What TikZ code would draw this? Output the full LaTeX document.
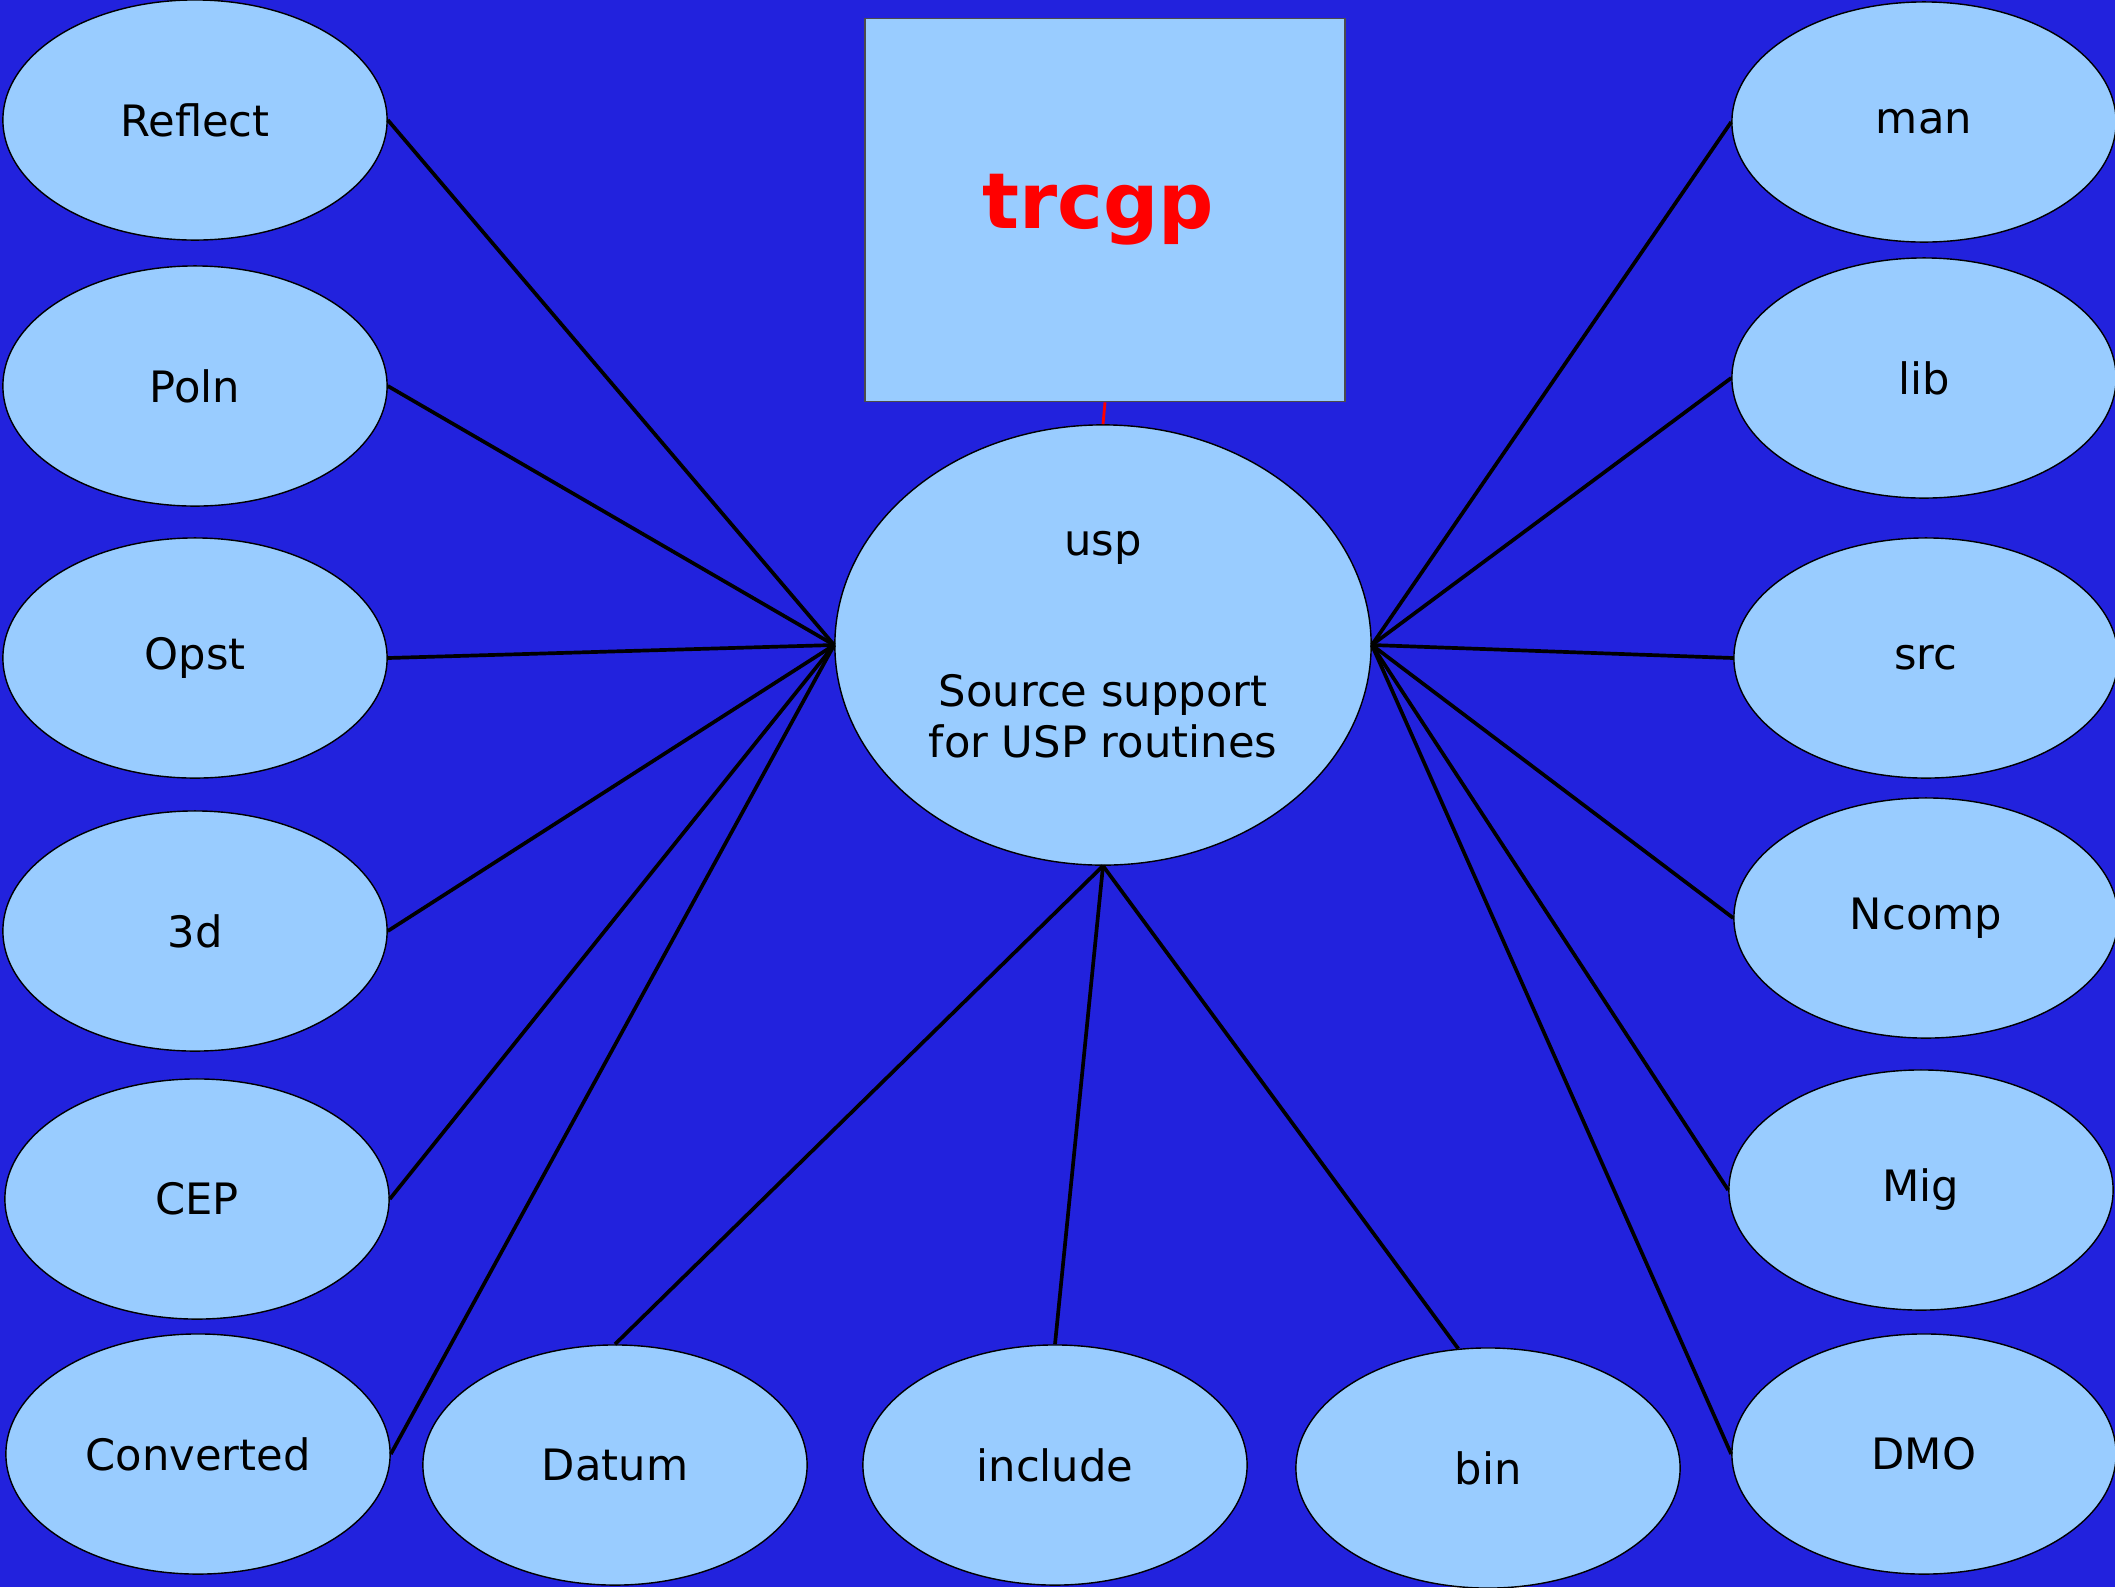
\documentclass[tikz,border=0pt]{standalone}
\usepackage{fontspec}
\setmainfont{DejaVu Sans}
\usetikzlibrary{shapes.geometric}
\definecolor{bgblue}{RGB}{34,34,221}
\definecolor{leafblue}{RGB}{153,204,255}

\begin{document}
\begin{tikzpicture}[x=0.01cm,y=-0.01cm]
\tikzstyle{dir}=[ellipse,draw=black,line width=0.4pt,fill=leafblue,minimum width=3.84cm,minimum height=2.4cm,inner sep=0pt,font=\fontsize{12.3}{15}\selectfont]
\tikzstyle{hub}=[dir,minimum width=5.36cm,minimum height=4.4cm,align=center,font=\fontsize{12.3}{14.5}\selectfont]
\tikzstyle{titlebox}=[rectangle,draw=black!70,line width=0.4pt,fill=leafblue,minimum width=4.8cm,minimum height=3.83cm,text=red,font=\fontsize{22}{28}\selectfont\bfseries]
\tikzstyle{link}=[draw=black,line width=1.05pt]

% Background
\useasboundingbox (0,0) rectangle (2115,1587);
\fill[bgblue] (0,0) rectangle (2115,1587);

% Title box and the usp node
\node[titlebox] (title) at (1105,210) {\hspace*{-0.14cm}trcgp};
\node[hub] (usp) at (1103,645) {usp\\[1cm]Source support\\for USP routines};

% Left column
\foreach \name/\x/\y in {Reflect/195/120,Poln/195/386,Opst/195/658,3d/195/931,CEP/197/1199,Converted/198/1454}
\node[dir] (L-\name) at (\x,\y) {\name};

% Right column
\foreach \name/\x/\y in {man/1924/122,lib/1924/378,src/1926/658,Ncomp/1926/918,Mig/1921/1190,DMO/1924/1454}
\node[dir] (R-\name) at (\x,\y) {\name};

% Bottom row
\foreach \name/\x/\y in {Datum/615/1465,include/1055/1465,bin/1488/1468}
\node[dir] (B-\name) at (\x,\y) {\name};

% Connect everything to usp
\draw[red,line width=0.8pt] (title.south) -- (usp.north);

\foreach \name in {Reflect,Poln,Opst,3d,CEP,Converted}
\path[link] (L-\name.east) -- (usp.west);

\foreach \name in {man,lib,src,Ncomp,Mig,DMO}
\path[link] (R-\name.west) -- (usp.east);

\path[link] (B-Datum.north) -- (usp.south);
\path[link] (B-include.north) -- (usp.south);
\path[link] (B-bin.104) -- (usp.south);

\end{tikzpicture}
\end{document}
